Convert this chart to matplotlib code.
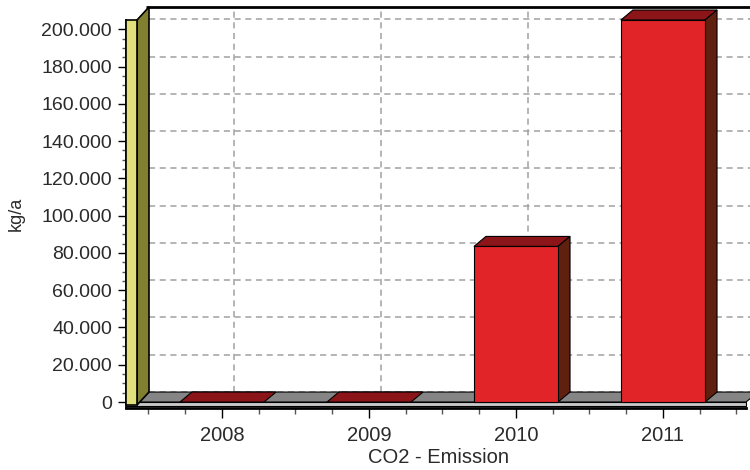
"""CO2 emission per year, drawn as a pseudo-3D bar chart."""

import matplotlib

matplotlib.use("Agg")
import matplotlib.pyplot as plt
from matplotlib.patches import Polygon, Rectangle
from matplotlib.ticker import FixedLocator, FuncFormatter

plt.rcParams["font.family"] = ["Liberation Sans", "DejaVu Sans"]

years = ["2008", "2009", "2010", "2011"]
emissions = [0, 0, 83500, 205000]
y_ticks = list(range(0, 200001, 20000))

# colours
FRONT = "#E02428"
TOP = "#8B1518"
SIDE = "#602010"
WALL_FRONT = "#E1E07D"
WALL_SIDE = "#808030"
FLOOR_TOP = "#858585"
FLOOR_FRONT = "#C8C8C8"
GRID = "#A0A0A0"
TEXT = "#2a2a2a"

W, H = 750, 470
fig = plt.figure(figsize=(W / 100, H / 100), dpi=100)
# axes box in pixels: left 126, right 750, top 20, bottom 408
ax = fig.add_axes([126 / W, (H - 408) / H, 624 / W, 388 / H])

x_min, x_max = -0.653, 3.592
y_min, y_max = -3200, 205000
ax.set_xlim(x_min, x_max)
ax.set_ylim(y_min, y_max)

px_x = 624 / (x_max - x_min)
px_y = 388 / (y_max - y_min)
DX = 12 / px_x          # depth offset, data units
DY = 10 / px_y
wall_w = 11 / px_x      # thickness of the left wall
floor_end = 3.565
half = 0.286
wall_top = y_max + 13 / px_y

# back wall
wall_x = x_min + wall_w + DX
ax.add_patch(Rectangle((wall_x, DY), x_max + 1 - wall_x, wall_top - DY,
                       facecolor="white", edgecolor="none", zorder=0, clip_on=False))
ax.plot([wall_x - 0.02, x_max + 1], [wall_top] * 2, color="black", lw=2, zorder=1,
        clip_on=False, solid_capstyle="butt")
for v in y_ticks:
    ax.plot([wall_x, x_max + 1], [v + DY] * 2, color=GRID, lw=1.1,
            dashes=(4, 3), zorder=1, clip_on=False)
for i in range(len(years)):
    ax.plot([i + DX] * 2, [DY, wall_top], color=GRID, lw=1.1,
            dashes=(4, 3), zorder=1, clip_on=False)

# floor
fx = x_min + wall_w
ax.add_patch(Polygon([(fx, 0), (floor_end, 0), (floor_end + DX, DY), (fx + DX, DY)],
                     facecolor=FLOOR_TOP, edgecolor="black", lw=0.8, zorder=2,
                     clip_on=False))
ax.add_patch(Rectangle((x_min, y_min * 0.65), floor_end - x_min, -y_min * 0.65,
                       facecolor=FLOOR_FRONT, edgecolor="black", lw=0.8, zorder=3,
                       clip_on=False))

# left wall
ax.add_patch(Polygon([(fx, y_min * 0.5), (fx + DX, DY), (fx + DX, wall_top),
                      (fx, y_max)],
                     facecolor=WALL_SIDE, edgecolor="black", lw=1.2, zorder=4,
                     clip_on=False))
ax.add_patch(Rectangle((x_min, y_min * 0.5), wall_w, y_max - y_min * 0.5,
                       facecolor=WALL_FRONT, edgecolor="black", lw=1.2, zorder=5,
                       clip_on=False))

# bars
for i, v in enumerate(emissions):
    l, r = i - half, i + half
    ax.add_patch(Polygon([(l, v), (r, v), (r + DX, v + DY), (l + DX, v + DY)],
                         facecolor=TOP, edgecolor="black", lw=0.8, zorder=6,
                         clip_on=False))
    if v > 0:
        ax.add_patch(Polygon([(r, 0), (r + DX, DY), (r + DX, v + DY), (r, v)],
                             facecolor=SIDE, edgecolor="black", lw=0.8, zorder=6,
                             clip_on=False))
        ax.bar(i, v, width=2 * half, color=FRONT, edgecolor="black", lw=0.8,
               zorder=7, clip_on=False)

# axes decoration
ax.spines["top"].set_visible(False)
ax.spines["right"].set_visible(False)
ax.spines["bottom"].set_bounds(x_min, floor_end)
ax.spines["bottom"].set_linewidth(2)
ax.spines["left"].set_linewidth(1.2)

ax.yaxis.set_major_locator(FixedLocator(y_ticks))
ax.yaxis.set_minor_locator(FixedLocator([v for v in range(0, 200001, 5000)
                                         if v % 20000]))
ax.yaxis.set_major_formatter(FuncFormatter(lambda v, _: f"{int(v):,}".replace(",", ".")))
ax.set_xticks(range(len(years)), labels=years)
ax.xaxis.set_minor_locator(FixedLocator([k / 4 for k in range(-2, 15) if k % 4]))

ax.tick_params(axis="y", which="major", length=6, width=1, pad=4,
               labelsize=14, labelcolor=TEXT)
ax.tick_params(axis="y", which="minor", length=3, width=1, color="#555555")
ax.tick_params(axis="x", which="major", length=7, width=1, pad=6,
               labelsize=14.5, labelcolor=TEXT)
ax.tick_params(axis="x", which="minor", length=4, width=1, color="#555555")

ax.set_xlabel("CO2 - Emission", fontsize=14.5, color=TEXT, labelpad=2)
ax.set_ylabel("kg/a", fontsize=13, color=TEXT, labelpad=12)

fig.savefig("out.png", dpi=100)
